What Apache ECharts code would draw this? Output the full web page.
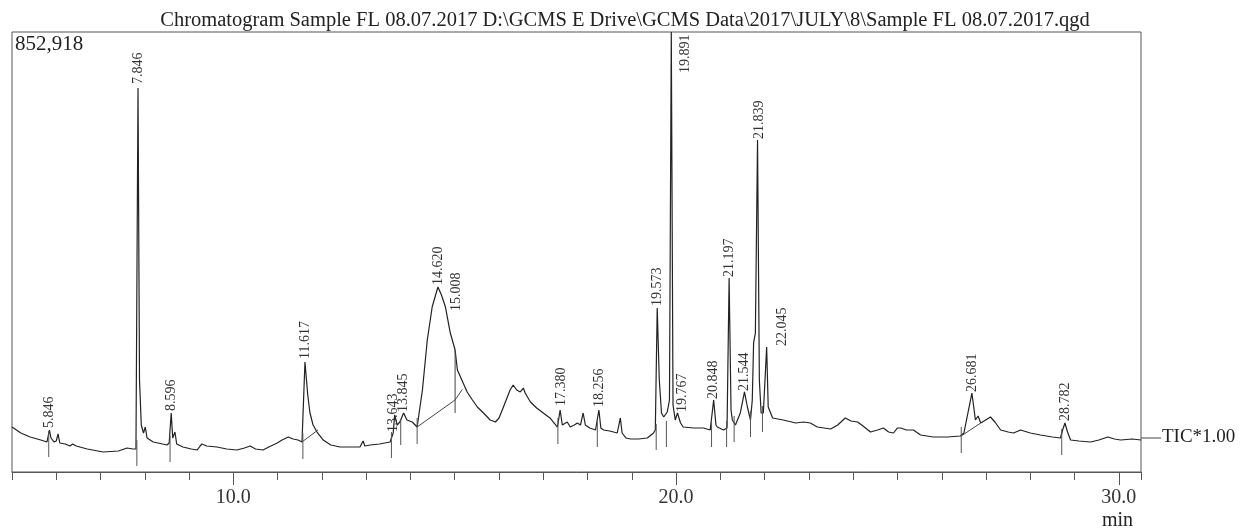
<!DOCTYPE html>
<html>
<head>
<meta charset="utf-8">
<script src="https://cdn.jsdelivr.net/npm/echarts@6/dist/echarts.min.js"></script>
<style>html,body{margin:0;padding:0;background:#fff}#c{width:1250px;height:529px}</style>
</head>
<body>
<div id="c"></div>
<script>
// ---- data (retention time in min, intensity in thousands of counts) ----
const titleText = 'Chromatogram Sample FL 08.07.2017 D:\\GCMS E Drive\\GCMS Data\\2017\\JULY\\8\\Sample FL 08.07.2017.qgd';
const yMax = 852.918;
const xMin = 5.0, xMax = 30.5;
const majorTicks = [10, 20, 30];

const times = [5.00,5.20,5.41,5.65,5.79,5.846,5.88,5.95,6.00,6.04,6.08,6.20,6.31,6.37,6.45,6.70,7.06,7.40,7.60,7.73,7.80,7.846,7.88,7.92,7.97,8.01,8.05,8.19,8.40,8.50,8.55,8.596,8.63,8.68,8.72,8.86,9.05,9.18,9.25,9.29,9.40,9.63,9.85,10.08,10.25,10.38,10.50,10.67,10.80,10.99,11.10,11.24,11.35,11.46,11.55,11.617,11.68,11.73,11.80,11.89,12.03,12.20,12.41,12.60,12.86,12.93,12.97,13.09,13.30,13.54,13.61,13.643,13.70,13.76,13.845,13.92,14.04,14.15,14.27,14.38,14.49,14.62,14.70,14.79,14.90,15.008,15.06,15.19,15.28,15.40,15.51,15.65,15.80,15.92,16.00,16.10,16.25,16.32,16.40,16.48,16.55,16.59,16.71,16.85,17.00,17.15,17.32,17.38,17.43,17.54,17.61,17.70,17.77,17.84,17.90,17.95,18.05,18.18,18.256,18.30,18.36,18.50,18.67,18.74,18.78,18.87,18.97,19.15,19.35,19.49,19.53,19.573,19.62,19.67,19.72,19.76,19.80,19.85,19.891,19.93,19.98,20.03,20.10,20.16,20.40,20.62,20.77,20.848,20.90,20.93,21.07,21.15,21.197,21.24,21.27,21.34,21.45,21.544,21.61,21.68,21.72,21.75,21.79,21.839,21.88,21.92,21.97,22.045,22.08,22.18,22.42,22.70,22.88,23.03,23.19,23.49,23.65,23.82,23.95,24.10,24.25,24.39,24.55,24.68,24.80,24.91,25.00,25.07,25.20,25.36,25.52,25.81,26.13,26.42,26.50,26.681,26.76,26.82,26.88,27.10,27.20,27.33,27.50,27.62,27.78,28.00,28.23,28.50,28.68,28.73,28.782,28.84,28.91,29.10,29.36,29.55,29.75,29.90,30.04,30.30,30.50];
const intensity = [87.2,75.6,67.8,62.0,58.2,81.4,65.9,58.2,60.1,73.7,56.2,54.3,50.4,54.3,50.4,44.6,38.8,40.7,46.5,44.6,44.6,744.4,178.3,91.1,75.6,87.2,65.9,58.2,54.3,52.3,56.2,114.4,65.9,77.5,54.3,48.5,44.6,42.6,50.4,54.3,50.4,48.5,44.6,42.6,46.5,50.4,44.6,42.6,48.5,56.2,62.0,67.8,64.0,62.0,58.2,213.2,149.3,114.4,91.1,77.5,62.0,52.3,48.5,48.5,48.5,60.1,50.4,52.3,54.3,58.2,75.6,110.5,91.1,96.9,114.4,100.8,96.9,87.2,159.0,255.9,319.8,358.6,343.1,319.8,269.4,236.5,197.7,172.5,155.1,139.6,126.0,114.4,100.8,96.9,104.7,126.0,159.0,168.6,159.0,155.1,162.8,153.1,135.7,124.1,114.4,104.7,87.2,120.2,91.1,96.9,87.2,91.1,95.0,91.1,114.4,91.1,85.3,81.4,120.2,85.3,81.4,79.5,75.6,104.7,75.6,65.9,64.0,64.0,65.9,75.6,81.4,317.9,178.3,114.4,106.6,104.7,116.3,139.6,852.9,129.9,100.8,114.4,95.0,87.2,85.3,85.3,81.4,139.6,91.1,87.2,81.4,85.3,376.1,120.2,100.8,91.1,114.4,155.1,126.0,100.8,139.6,250.1,269.4,643.6,178.3,114.4,114.4,242.3,126.0,104.7,100.8,95.0,96.9,95.0,87.2,83.4,91.1,104.7,98.9,96.9,87.2,77.5,81.4,85.3,77.5,75.6,85.3,85.3,81.4,81.4,71.7,67.8,67.8,69.8,75.6,153.1,100.8,108.6,95.0,106.6,96.9,81.4,77.5,75.6,81.4,75.6,71.7,67.8,65.9,81.4,95.0,77.5,62.0,60.1,58.2,62.0,67.8,64.0,62.0,64.0,62.0];

// labelled peaks: retention time and apex intensity
const peakTimes = [5.846,7.846,8.596,11.617,13.643,13.845,14.620,15.008,17.380,18.256,19.573,19.767,19.891,20.848,21.197,21.544,21.839,22.045,26.681,28.782];
const peakHeights = [81.4,744.4,114.4,213.2,110.5,114.4,358.6,236.5,120.2,120.2,317.9,104.7,852.9,139.6,376.1,155.1,643.6,242.3,153.1,95.0];

// integration boundary marks (time, baseline level)
const markTimes = [5.83,7.82,8.57,11.57,13.57,13.78,14.15,17.33,18.22,19.55,19.78,20.80,21.14,21.31,21.68,21.95,26.44,28.71];
const markLevels = [62.0,44.6,52.3,58.2,60.1,85.3,87.2,87.2,81.4,75.6,81.4,81.4,81.4,91.1,100.8,110.5,69.8,65.9];

// integration baselines drawn under merged peaks
const baseA = [[11.55,58.2],[11.91,81.4]];
const baseB = [[14.15,87.2],[15.008,139.6],[15.17,160.0]];
const baseC = [[26.44,69.8],[26.88,95.0]];
const dropLine = [[15.008,236.5],[15.008,114.4]];

// ---- layout-only label nudges (px) ----
const labelNudge = {
  '5.846':[0,-1],'7.846':[0,-3],'8.596':[0,-1],'11.617':[0,-2],'13.643':[-1,18],
  '14.620':[0,-1],'15.008':[1,-38],'17.380':[1,-3],'18.256':[0,-2],'19.573':[0,-1],
  '19.767':[17,-5],'19.891':[14,42],'21.839':[2,0],'22.045':[16,0],'28.782':[0,-1]
};

const FONT = '"Liberation Serif","DejaVu Serif",serif';
const LINE = '#222';
const chart = echarts.init(document.getElementById('c'), null, {renderer:'canvas'});

const curve = times.map((t,i)=>[t, intensity[i]]);
const peaks = peakTimes.map((t,i)=>[t, peakHeights[i]]);
const marks = markTimes.map((t,i)=>[t, markLevels[i]]);

const option = {
  animation: false,
  backgroundColor: '#fff',
  title: {
    text: titleText, left: 'center', top: 5,
    textStyle: {fontFamily: FONT, fontSize: 20.5, fontWeight: 'normal', color: '#222'}
  },
  grid: {left: 12, right: 109, top: 32, bottom: 57, show: true, borderColor: '#555', borderWidth: 1, backgroundColor: 'transparent'},
  xAxis: [{
    type: 'value', min: xMin, max: xMax, interval: 1,
    axisLine: {show: true, lineStyle: {color: '#555', width: 1}},
    axisTick: {show: true, length: 8, lineStyle: {color: '#555'}},
    axisLabel: {
      show: true, margin: 16, color: '#333', fontFamily: FONT, fontSize: 20,
      formatter: v => majorTicks.indexOf(Math.round(v*1000)/1000) >= 0 ? v.toFixed(1) : ''
    },
    splitLine: {show: false}
  }, {
    type: 'value', min: xMin, max: xMax, position: 'bottom',
    axisLine: {show: false},
    axisTick: {show: true, length: 13, customValues: majorTicks, lineStyle: {color: '#555'}},
    axisLabel: {show: false},
    splitLine: {show: false}
  }],
  yAxis: {type: 'value', min: 0, max: yMax, show: false},
  graphic: [
    {type: 'text', left: 15, top: 34, style: {text: '852,918', font: '21px ' + FONT, fill: '#222'}},
    {type: 'line', shape: {x1: 1141, y1: 438, x2: 1161, y2: 438}, style: {stroke: '#444', lineWidth: 1}},
    {type: 'text', left: 1162, top: 428, style: {text: 'TIC*1.00', font: '19px ' + FONT, fill: '#222'}},
    {type: 'text', left: 1102, top: 511, style: {text: 'min', font: '20px ' + FONT, fill: '#222'}}
  ],
  series: [
    {
      type: 'line', data: curve, showSymbol: false, symbol: 'none',
      lineStyle: {color: LINE, width: 1.2}, z: 3, clip: true
    },
    {type: 'line', data: baseA, showSymbol: false, symbol: 'none', lineStyle: {color: '#444', width: 1}},
    {type: 'line', data: baseB, showSymbol: false, symbol: 'none', lineStyle: {color: '#444', width: 1}},
    {type: 'line', data: baseC, showSymbol: false, symbol: 'none', lineStyle: {color: '#444', width: 1}},
    {type: 'line', data: dropLine, showSymbol: false, symbol: 'none', lineStyle: {color: '#444', width: 1}},
    {
      type: 'custom', data: marks, z: 4,
      renderItem: (params, api) => {
        const p = api.coord([api.value(0), api.value(1)]);
        return {type: 'line', shape: {x1: p[0], y1: p[1]-9, x2: p[0], y2: p[1]+17}, style: {stroke: '#555', lineWidth: 1}};
      }
    },
    {
      type: 'custom', data: peaks, z: 5,
      renderItem: (params, api) => {
        const t = api.value(0);
        const p = api.coord([t, api.value(1)]);
        const key = t.toFixed(3);
        const n = labelNudge[key] || [0, 0];
        return {
          type: 'text', x: p[0] + n[0], y: p[1] - 1 + n[1], rotation: Math.PI/2,
          style: {text: key, font: '14px ' + FONT, fill: '#333', align: 'left', verticalAlign: 'middle'}
        };
      }
    }
  ]
};
chart.setOption(option);
</script>
</body>
</html>
